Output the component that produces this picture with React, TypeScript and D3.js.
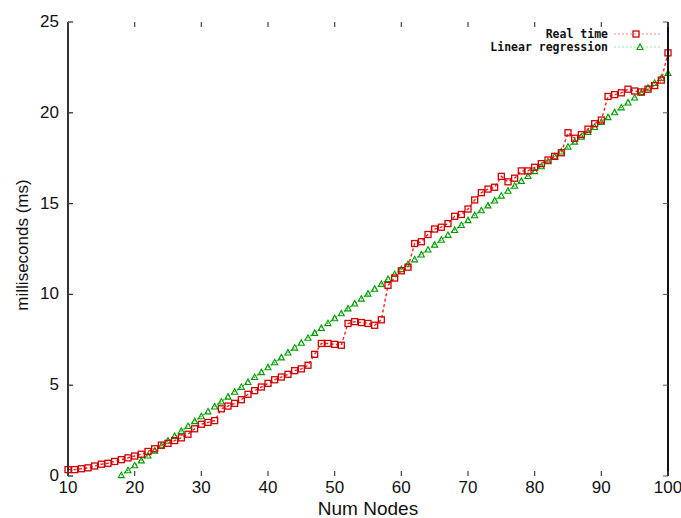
import React from "react";
import * as d3 from "d3";

const nodesReal: number[] = d3.range(10, 101);
const realTime: number[] = [
  0.35, 0.35, 0.4, 0.45, 0.55, 0.65, 0.7, 0.8, 0.9, 1.0,
  1.1, 1.2, 1.35, 1.5, 1.7, 1.8, 1.95, 2.1, 2.3, 2.6,
  2.85, 2.95, 3.05, 3.7, 3.85, 4.0, 4.2, 4.5, 4.7, 4.9,
  5.1, 5.3, 5.45, 5.6, 5.8, 5.9, 6.1, 6.7, 7.3, 7.3,
  7.25, 7.2, 8.4, 8.5, 8.45, 8.4, 8.3, 8.6, 10.5, 10.9,
  11.3, 11.5, 12.8, 12.9, 13.3, 13.6, 13.7, 13.9, 14.3, 14.4,
  14.7, 15.2, 15.6, 15.8, 15.9, 16.5, 16.2, 16.4, 16.8, 16.8,
  17.0, 17.2, 17.4, 17.6, 17.8, 18.9, 18.6, 18.8, 19.1, 19.4,
  19.6, 20.9, 21.0, 21.1, 21.3, 21.2, 21.15, 21.3, 21.5, 21.8,
  23.3,
];

const nodesReg: number[] = d3.range(18, 101);
const regression: number[] = [
  0.05, 0.32, 0.59, 0.86, 1.13, 1.40, 1.67, 1.94, 2.21, 2.48,
  2.75, 3.02, 3.29, 3.56, 3.83, 4.10, 4.37, 4.64, 4.91, 5.18,
  5.45, 5.72, 5.99, 6.26, 6.53, 6.80, 7.07, 7.34, 7.61, 7.88,
  8.15, 8.42, 8.69, 8.96, 9.23, 9.50, 9.77, 10.04, 10.31, 10.58,
  10.85, 11.12, 11.39, 11.66, 11.93, 12.20, 12.47, 12.74, 13.01, 13.28,
  13.55, 13.82, 14.09, 14.36, 14.63, 14.90, 15.17, 15.44, 15.71, 15.98,
  16.25, 16.52, 16.79, 17.06, 17.33, 17.60, 17.87, 18.14, 18.41, 18.68,
  18.95, 19.22, 19.49, 19.76, 20.03, 20.30, 20.57, 20.84, 21.11, 21.38,
  21.65, 21.92, 22.19,
];

const xTicks: number[] = [10, 20, 30, 40, 50, 60, 70, 80, 90, 100];
const yTicks: number[] = [0, 5, 10, 15, 20, 25];
const seriesNames: string[] = ["Real time", "Linear regression"];

const X0 = 68, X1 = 668, Y0 = 476, Y1 = 22;

export default function App() {
  const x = d3.scaleLinear().domain([10, 100]).range([X0, X1]);
  const y = d3.scaleLinear().domain([0, 25]).range([Y0, Y1]);

  const realPts = nodesReal.map((n, i) => [x(n), y(realTime[i])] as [number, number]);
  const regPts = nodesReg.map((n, i) => [x(n), y(regression[i])] as [number, number]);
  const line = d3.line<[number, number]>();

  const sq = (cx: number, cy: number, k: string | number) => (
    <rect key={k} x={cx - 3} y={cy - 3} width={6} height={6} fill="none" stroke="#d00000" strokeWidth={1.3} />
  );
  const tri = (cx: number, cy: number, k: string | number) => (
    <path key={k} d={`M${cx - 3},${cy + 2.5}L${cx + 3},${cy + 2.5}L${cx},${cy - 3}Z`} fill="none" stroke="#009a00" strokeWidth={1.1} />
  );

  const tickFont = "'Liberation Sans', Arial, sans-serif";
  const legFont = "'DejaVu Sans Mono', 'Liberation Mono', monospace";

  return (
    <svg width={681} height={518} style={{ position: "absolute", left: 0, top: 0, background: "#fff" }}>
      <rect x={0} y={0} width={681} height={518} fill="#fff" />
      {/* regression */}
      <path d={line(regPts) || ""} fill="none" stroke="#22cc22" strokeWidth={1.4} strokeDasharray="1.5,2" />
      {regPts.map((p, i) => tri(p[0], p[1], "t" + i))}
      {/* real time */}
      <path d={line(realPts) || ""} fill="none" stroke="#ff2020" strokeWidth={1.4} strokeDasharray="3,2.5" />
      {realPts.map((p, i) => sq(p[0], p[1], "s" + i))}

      {/* axes */}
      <line x1={X0} x2={X0} y1={Y1} y2={Y0} stroke="#333" strokeWidth={2} />
      <line x1={X1} x2={X1} y1={Y1} y2={Y0} stroke="#111" strokeWidth={2} />
      {yTicks.map((t) => (
        <g key={"y" + t}>
          <line x1={X0} x2={X0 + 5} y1={y(t)} y2={y(t)} stroke="#333" strokeWidth={1.3} />
          <line x1={X1 - 5} x2={X1} y1={y(t)} y2={y(t)} stroke="#555" strokeWidth={1} />
          <text x={X0 - 9} y={y(t) + 5} textAnchor="end" fontFamily={tickFont} fontSize={17} fill="#111">{t}</text>
        </g>
      ))}
      {xTicks.map((t) => (
        <g key={"x" + t}>
          <line x1={x(t)} x2={x(t)} y1={Y0} y2={Y0 - 5} stroke="#444" strokeWidth={1.2} />
          <line x1={x(t)} x2={x(t)} y1={Y1} y2={Y1 + 5} stroke="#444" strokeWidth={1.2} />
          <text x={x(t)} y={493} textAnchor="middle" fontFamily={tickFont} fontSize={17} fill="#111">{t}</text>
        </g>
      ))}
      <text x={368} y={515} textAnchor="middle" fontFamily="'Liberation Sans', Arial, sans-serif" fontSize={19} fill="#111">Num Nodes</text>
      <text transform="translate(28,245) rotate(-90)" textAnchor="middle" fontFamily="'Liberation Sans', Arial, sans-serif" fontSize={17} fill="#111">milliseconds (ms)</text>

      {/* legend */}
      <text x={608} y={38} textAnchor="end" fontFamily={legFont} fontWeight="bold" fontSize={11.5} fill="#111">{seriesNames[0]}</text>
      <text x={608} y={51} textAnchor="end" fontFamily={legFont} fontWeight="bold" fontSize={11.5} fill="#111">{seriesNames[1]}</text>
      <line x1={614} x2={660} y1={34} y2={34} stroke="#ff9090" strokeWidth={1.2} strokeDasharray="2,2" />
      {sq(636, 34, "ls")}
      <line x1={614} x2={660} y1={47} y2={47} stroke="#90ee90" strokeWidth={1.2} strokeDasharray="2,2" />
      {tri(640, 47, "lt")}
    </svg>
  );
}
